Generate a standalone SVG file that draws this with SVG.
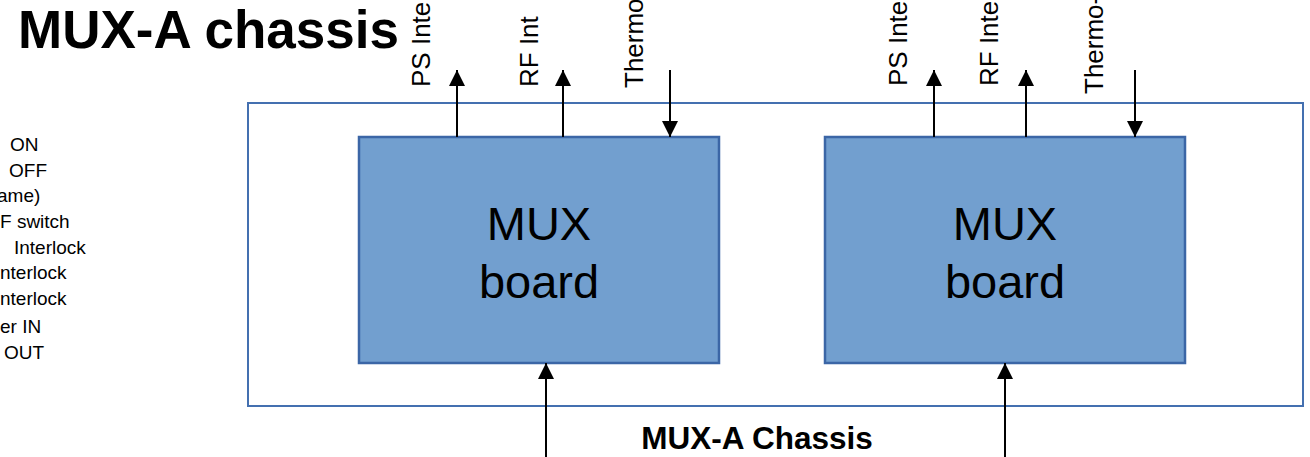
<svg xmlns="http://www.w3.org/2000/svg" width="1310" height="457" viewBox="0 0 1310 457">
  <defs>
    <marker id="head" markerUnits="userSpaceOnUse" markerWidth="16" markerHeight="16" viewBox="0 0 16 16" refX="16" refY="8" orient="auto">
      <path d="M0,0 L16,8 L0,16 Z" fill="#000"/>
    </marker>
    <style>
      text { font-family: "Liberation Sans", Arial, sans-serif; fill: #000; }
      .title { font-size: 53px; font-weight: bold; }
      .list { font-size: 19px; }
      .sig { font-size: 26px; }
      .board-label { font-size: 47px; text-anchor: middle; }
      .chassis-label { font-size: 31.5px; font-weight: bold; text-anchor: middle; }
      .chassis { fill: #fff; stroke: #4470B0; stroke-width: 2; }
      .board { fill: #729FCF; stroke: #3B66A6; stroke-width: 2.5; }
      .wire { stroke: #000; stroke-width: 2; fill: none; marker-end: url(#head); }
    </style>
  </defs>

  <rect width="1310" height="457" fill="#fff"/>

  <!-- heading -->
  <text class="title" x="18" y="48">MUX-A chassis</text>

  <!-- signal list at the left margin -->
  <g id="signal-list" class="list">
    <text x="10" y="151">ON</text>
    <text x="9" y="177">OFF</text>
    <text x="-3" y="202">ame)</text>
    <text x="0" y="228">F switch</text>
    <text x="14" y="254">Interlock</text>
    <text x="0" y="279">nterlock</text>
    <text x="0" y="305">nterlock</text>
    <text x="0" y="333">er IN</text>
    <text x="4" y="359">OUT</text>
  </g>

  <!-- chassis outline -->
  <g id="chassis">
    <rect class="chassis" x="248" y="103" width="1055" height="303"/>
    <text class="chassis-label" x="757" y="449">MUX-A Chassis</text>
  </g>

  <!-- boards -->
  <g id="board-1">
    <rect class="board" x="359" y="137" width="360" height="226"/>
    <text class="board-label" x="539" y="240">MUX</text>
    <text class="board-label" x="539" y="298">board</text>
  </g>
  <g id="board-2">
    <rect class="board" x="825" y="137" width="360" height="226"/>
    <text class="board-label" x="1005" y="240">MUX</text>
    <text class="board-label" x="1005" y="298">board</text>
  </g>

  <!-- signal names, rotated -->
  <g id="signal-labels" class="sig">
    <text transform="translate(430,87) rotate(-90)">PS Inte</text>
    <text transform="translate(538,87) rotate(-90)">RF Int</text>
    <text transform="translate(643,88) rotate(-90)">Thermo</text>
    <text transform="translate(907,86) rotate(-90)">PS Inte</text>
    <text transform="translate(998,86) rotate(-90)">RF Inte</text>
    <text transform="translate(1103,94) rotate(-90)">Thermo-</text>
  </g>

  <!-- connectors -->
  <g id="connectors">
    <line class="wire" x1="457" y1="137" x2="457" y2="70"/>
    <line class="wire" x1="563" y1="137" x2="563" y2="70"/>
    <line class="wire" x1="670" y1="70" x2="670" y2="137"/>
    <line class="wire" x1="934" y1="137" x2="934" y2="70"/>
    <line class="wire" x1="1026" y1="137" x2="1026" y2="70"/>
    <line class="wire" x1="1135" y1="70" x2="1135" y2="137"/>
    <line class="wire" x1="546" y1="457" x2="546" y2="363"/>
    <line class="wire" x1="1005" y1="457" x2="1005" y2="363"/>
  </g>
</svg>
